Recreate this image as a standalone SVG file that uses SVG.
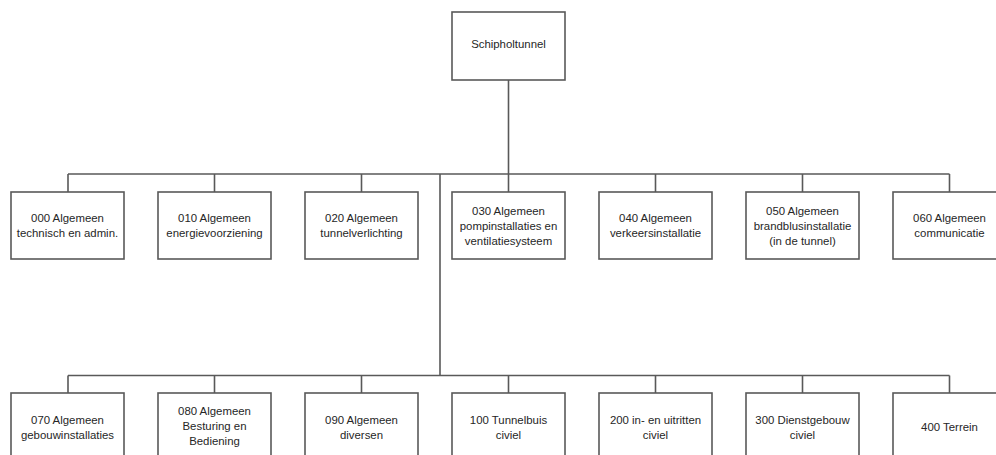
<svg xmlns="http://www.w3.org/2000/svg" width="996" height="455" viewBox="0 0 996 455">
<style>
.box{fill:#fff;stroke:#595959;stroke-width:1.6}
.ln{fill:none;stroke:#595959;stroke-width:1.6}
text{font-family:"Liberation Sans",Arial,sans-serif;font-size:11.4px;fill:#262626;text-anchor:middle}
</style>
<rect width="996" height="455" fill="#fff"/>
<g id="connectors">
<path class="ln" d="M508.5,80 V174 M68,174 H949.5 M68,174 V192 M214.5,174 V192 M361.5,174 V192 M508.5,174 V192 M655.5,174 V192 M802.5,174 V192 M949.5,174 V192"/>
<path class="ln" d="M440,174 V375.5 M68,375.5 H949.5 M68,375.5 V393 M214.5,375.5 V393 M361.5,375.5 V393 M508.5,375.5 V393 M655.5,375.5 V393 M802.5,375.5 V393 M949.5,375.5 V393"/>
</g>
<g id="root"><rect class="box" x="452" y="12" width="113" height="68"/><text x="508.5" y="48">Schipholtunnel</text></g>
<g id="n000"><rect class="box" x="11" y="192" width="113" height="67"/><text x="67.5" y="222">000 Algemeen</text><text x="67.5" y="237">technisch en admin.</text></g>
<g id="n010"><rect class="box" x="158" y="192" width="113" height="67"/><text x="214.5" y="222">010 Algemeen</text><text x="214.5" y="237">energievoorziening</text></g>
<g id="n020"><rect class="box" x="305" y="192" width="113" height="67"/><text x="361.5" y="222">020 Algemeen</text><text x="361.5" y="237">tunnelverlichting</text></g>
<g id="n030"><rect class="box" x="452" y="192" width="113" height="67"/><text x="508.5" y="214.5">030 Algemeen</text><text x="508.5" y="229.5">pompinstallaties en</text><text x="508.5" y="244.5">ventilatiesysteem</text></g>
<g id="n040"><rect class="box" x="599" y="192" width="113" height="67"/><text x="655.5" y="222">040 Algemeen</text><text x="655.5" y="237">verkeersinstallatie</text></g>
<g id="n050"><rect class="box" x="746" y="192" width="113" height="67"/><text x="802.5" y="214.5">050 Algemeen</text><text x="802.5" y="229.5">brandblusinstallatie</text><text x="802.5" y="244.5">(in de tunnel)</text></g>
<g id="n060"><rect class="box" x="893" y="192" width="113" height="67"/><text x="949.5" y="222">060 Algemeen</text><text x="949.5" y="237">communicatie</text></g>
<g id="n070"><rect class="box" x="11" y="393" width="113" height="67"/><text x="67.5" y="424">070 Algemeen</text><text x="67.5" y="439">gebouwinstallaties</text></g>
<g id="n080"><rect class="box" x="158" y="393" width="113" height="67"/><text x="214.5" y="415">080 Algemeen</text><text x="214.5" y="430">Besturing en</text><text x="214.5" y="445">Bediening</text></g>
<g id="n090"><rect class="box" x="305" y="393" width="113" height="67"/><text x="361.5" y="424">090 Algemeen</text><text x="361.5" y="439">diversen</text></g>
<g id="n100"><rect class="box" x="452" y="393" width="113" height="67"/><text x="508.5" y="424">100 Tunnelbuis</text><text x="508.5" y="439">civiel</text></g>
<g id="n200"><rect class="box" x="599" y="393" width="113" height="67"/><text x="655.5" y="424">200 in- en uitritten</text><text x="655.5" y="439">civiel</text></g>
<g id="n300"><rect class="box" x="746" y="393" width="113" height="67"/><text x="802.5" y="424">300 Dienstgebouw</text><text x="802.5" y="439">civiel</text></g>
<g id="n400"><rect class="box" x="893" y="393" width="113" height="67"/><text x="949.5" y="431">400 Terrein</text></g>
</svg>
